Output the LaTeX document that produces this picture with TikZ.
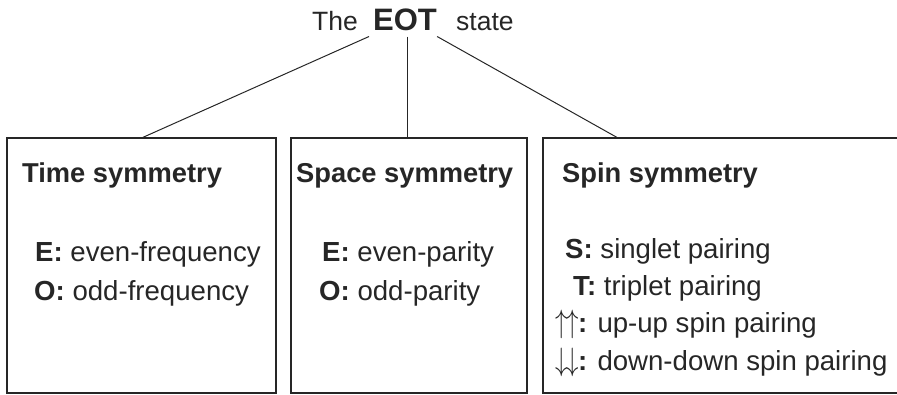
\documentclass[tikz,border=0pt]{standalone}
\usepackage{fontspec}
\usepackage{graphicx}
\setmainfont{Liberation Sans}
\usetikzlibrary{calc}
\newcommand{\myup}{\scalebox{1}[1.3]{$\uparrow$}}
\newcommand{\mydown}{\scalebox{1}[1.3]{$\downarrow$}}
\begin{document}
\begin{tikzpicture}[x=1pt,y=-1pt,
  box/.style={draw=black!85, line width=2.6pt, inner sep=0pt, outer sep=0pt, anchor=north west},
  conn/.style={draw=black!85, line width=1pt},
  ttl/.style={anchor=base west, inner sep=0pt, text=black!85, font=\fontsize{26.5}{30}\selectfont},
  ttlb/.style={anchor=base west, inner sep=0pt, text=black!85, font=\fontsize{31}{34}\selectfont\bfseries},
  hd/.style={anchor=base west, inner sep=0pt, text=black!85, font=\fontsize{27.3}{30}\selectfont\bfseries},
  item/.style={anchor=base west, inner sep=0pt, text=black!85, font=\fontsize{27.6}{30}\selectfont}]
\useasboundingbox (0,0) rectangle (897,394);
% title
\node[ttl] (the) at (312,30) {The};
\node[ttlb] (eot) at (373,30) {EOT};
\node[ttl] (state) at (456,30) {state};
% boxes
\node[box, minimum width=269pt, minimum height=255pt] (b1) at (7,138) {};
\node[box, minimum width=236pt, minimum height=255pt] (b2) at (291,138) {};
\node[box, minimum width=358pt, minimum height=255pt] (b3) at (543,138) {};
% connectors
\coordinate (s1) at ($(eot.south west)+(-4,6)$);
\coordinate (s2) at ($(eot.south)+(2,6)$);
\coordinate (s3) at ($(eot.south east)+(0,6)$);
\coordinate (e3) at ($(b3.north west)+(75,0)$);
\draw[conn] (s1) -- (b1.north);
\draw[conn] (s2) -- (s2 |- b2.north);
\draw[conn] (s3) -- (e3);
% time box
\node[hd] (h1) at (22,182) {Time symmetry};
\node[item] (t1) at (35,261) {\textbf{E:} even-frequency};
\node[item] (t2) at (34,300) {\textbf{O:} odd-frequency};
% space box
\node[hd] (h2) at (296,182) {Space symmetry};
\node[item] (p1) at (322,261) {\textbf{E:} even-parity};
\node[item] (p2) at (319,300) {\textbf{O:} odd-parity};
% spin box
\node[hd] (h3) at (562,182) {Spin symmetry};
\node[item] (q1) at (565,258) {\textbf{S:} singlet pairing};
\node[item] (q2) at (573,295) {\textbf{T:} triplet pairing};
\node[item] (q3) at (555,332) {\myup\kern-1pt\myup\kern-1pt\textbf{:} up-up spin pairing};
\node[item] (q4) at (555,370) {\mydown\kern-1pt\mydown\kern-1pt\textbf{:} down-down spin pairing};
\end{tikzpicture}
\end{document}
